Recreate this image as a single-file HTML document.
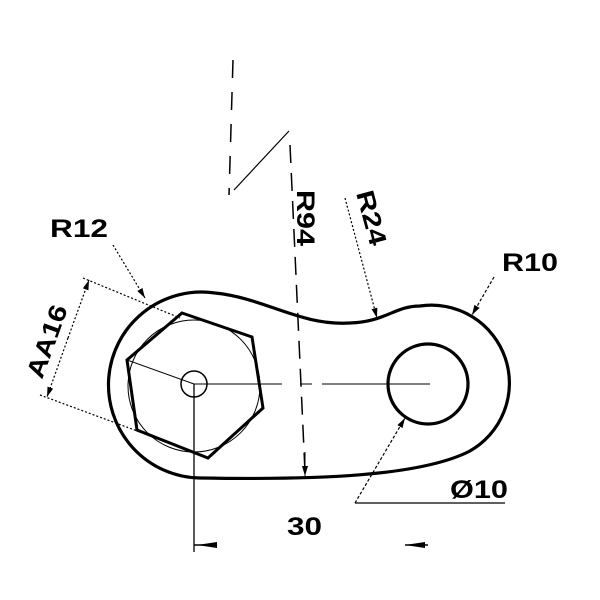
<!DOCTYPE html>
<html><head><style>body{margin:0;background:#fff}svg{display:block}</style></head><body>
<svg width="600" height="600" viewBox="0 0 600 600" xmlns="http://www.w3.org/2000/svg" font-family="Liberation Sans, sans-serif" font-weight="bold">
<defs><marker id="a" viewBox="0 0 10 6" refX="10" refY="3" markerWidth="10" markerHeight="6" orient="auto" markerUnits="userSpaceOnUse"><path d="M0,0 L10,3 L0,6z" fill="#000"/></marker></defs>
<g fill="none" stroke="#000">
<path d="M200,478 C320,480 420,476 469,451.5 A78 78 0 0 0 420,306 C395,306 385,322 350,323 C300,326 265,298 215,293 A93 93 0 1 0 200,478" stroke-width="3.2"/>
<circle cx="428" cy="384" r="40" stroke-width="3.2"/>
<circle cx="194" cy="384" r="13" stroke-width="1.5"/>
<polygon points="182,313 252,337 263,408 208,458 137,430 127,360" stroke-width="3"/>
<circle cx="194" cy="386" r="66" stroke-width="1"/>
<line x1="127" y1="360" x2="194" y2="384" stroke-width="1"/>
<line x1="194" y1="384" x2="282" y2="384" stroke-width="1"/>
<line x1="300" y1="384" x2="312" y2="384" stroke-width="1"/>
<line x1="322" y1="384" x2="430" y2="384" stroke-width="1"/>
<line x1="194" y1="384" x2="194" y2="552" stroke-width="1.3"/>
<line x1="194" y1="545" x2="217" y2="545" stroke-width="1.5"/>
<line x1="405" y1="545" x2="428" y2="545" stroke-width="1.5"/>
<path d="M197,545 L217,542 L217,548z" fill="#000" stroke="none"/>
<path d="M405,545 L425,542 L425,548z" fill="#000" stroke="none"/>
<line x1="233" y1="60" x2="229" y2="195" stroke-width="1.5" stroke-dasharray="18,14"/>
<line x1="234" y1="190" x2="289" y2="131" stroke-width="1.2"/>
<line x1="290" y1="145" x2="305" y2="472" stroke-width="1.5" stroke-dasharray="18,10"/>
<line x1="305" y1="452" x2="305" y2="476" marker-end="url(#a)" stroke-width="1"/>
<line x1="345" y1="198" x2="377" y2="318" stroke-width="1.2" stroke-dasharray="2,2" marker-end="url(#a)"/>
<line x1="494" y1="277" x2="472" y2="315" stroke-width="1.2" stroke-dasharray="3,2" marker-end="url(#a)"/>
<line x1="113" y1="245" x2="145" y2="298" stroke-width="1.2" stroke-dasharray="2,2" marker-end="url(#a)"/>
<line x1="83" y1="278" x2="180" y2="318" stroke-width="1.2" stroke-dasharray="2,2"/>
<line x1="40" y1="395" x2="140" y2="432" stroke-width="1.2" stroke-dasharray="2,2"/>
<line x1="68" y1="338" x2="89" y2="280" stroke-width="1.2" stroke-dasharray="2,2" marker-end="url(#a)"/>
<line x1="68" y1="338" x2="47" y2="397" stroke-width="1.2" stroke-dasharray="2,2" marker-end="url(#a)"/>
<line x1="355" y1="503" x2="405" y2="418" stroke-width="1.2" stroke-dasharray="3,2" marker-end="url(#a)"/>
<line x1="355" y1="503" x2="505" y2="503" stroke-width="1.2"/>
</g>
<g font-size="25" fill="#000">
<text x="287" y="535" textLength="35" lengthAdjust="spacingAndGlyphs">30</text>
<text x="450" y="498" textLength="58" lengthAdjust="spacingAndGlyphs">Ø10</text>
<text x="502" y="271" textLength="56" lengthAdjust="spacingAndGlyphs">R10</text>
<text x="50" y="237" textLength="58" lengthAdjust="spacingAndGlyphs">R12</text>
<text transform="translate(297,190) rotate(90)" textLength="56" lengthAdjust="spacingAndGlyphs">R94</text>
<text transform="translate(356,193) rotate(75)" textLength="56" lengthAdjust="spacingAndGlyphs">R24</text>
<text transform="translate(42,380) rotate(-70)" textLength="76" lengthAdjust="spacingAndGlyphs">AA16</text>
</g>
</svg>
</body></html>
